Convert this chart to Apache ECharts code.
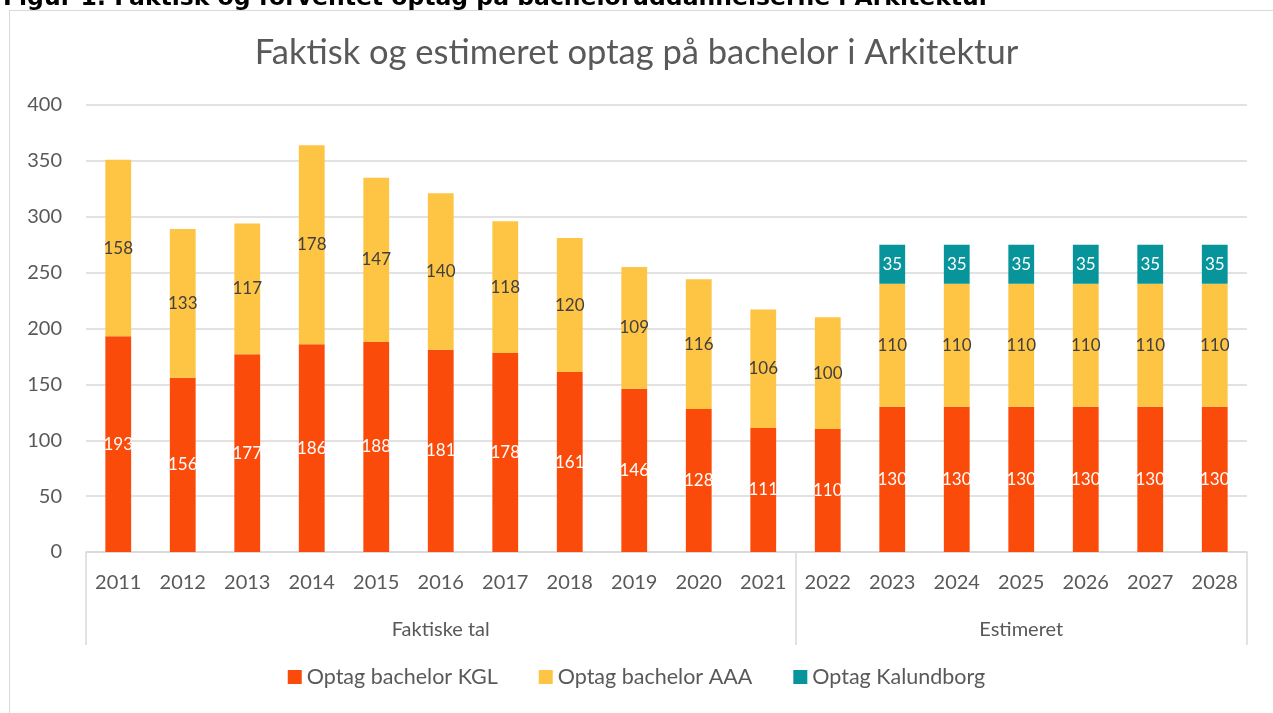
<!DOCTYPE html>
<html>
<head>
<meta charset="utf-8">
<script src="https://cdn.jsdelivr.net/npm/echarts@6/dist/echarts.min.js"></script>
<style>
  html, body { margin: 0; padding: 0; background: #fff; }
  #frame { position: absolute; left: 9px; top: 10px; width: 1280px; height: 720px; border: 1.5px solid #d9d9d9; }
  #chart { position: absolute; left: 0; top: 0; width: 1273px; height: 713px; }
</style>
</head>
<body>
<div id="frame"></div>
<div id="chart"></div>
<script>
const years = ['2011', '2012', '2013', '2014', '2015', '2016', '2017', '2018', '2019',
  '2020', '2021', '2022', '2023', '2024', '2025', '2026', '2027', '2028']
const kgl = [193, 156, 177, 186, 188, 181, 178, 161, 146, 128, 111, 110, 130, 130, 130, 130, 130, 130]
const aaa = [158, 133, 117, 178, 147, 140, 118, 120, 109, 116, 106, 100, 110, 110, 110, 110, 110, 110]
const kalundborg = [null, null, null, null, null, null, null, null, null, null, null, null, 35, 35, 35, 35, 35, 35]
const groupNames = ['Faktiske tal', 'Estimeret']
const groupSizes = [11, 7]
const yTicks = [0, 50, 100, 150, 200, 250, 300, 350, 400]

// build group axis: one label at centre of each group, ticks on group borders
const groupCats = []
const groupStarts = []
groupSizes.forEach((n, g) => {
  groupStarts.push(groupCats.length)
  for (let i = 0; i < n; i++) groupCats.push(i === Math.floor(n / 2) ? groupNames[g] : '')
})

const font = 'Lato, "Noto Sans", sans-serif'
const txt = '#595959'
const gridColor = '#d9d9d9'

const chart = echarts.init(document.getElementById('chart'))

const labelOf = (color) => ({
  show: true,
  position: 'inside',
  color: color,
  fontFamily: font,
  fontSize: 17
})

chart.setOption({
  textStyle: { fontFamily: font },
  title: [
    {
      text: 'Figur 1: Faktisk og forventet optag på bacheloruddannelserne i Arkitektur',
      left: -2,
      top: -18,
      textStyle: { fontFamily: '"DejaVu Sans", sans-serif', fontWeight: 'bold', fontSize: 23.5, color: '#000' }
    },
    {
      text: 'Faktisk og estimeret optag på bachelor i Arkitektur',
      left: 'center',
      top: 30,
      textStyle: { fontFamily: font, fontWeight: 'normal', fontSize: 34.5, color: txt }
    }
  ],
  legend: {
    bottom: 20,
    left: 'center',
    itemWidth: 14,
    itemHeight: 14,
    itemGap: 41,
    icon: 'rect',
    textStyle: { fontFamily: font, fontSize: 21.5, color: txt }
  },
  grid: { left: 86, right: 26, top: 105, bottom: 161 },
  xAxis: [
    {
      type: 'category',
      data: years,
      axisLine: { lineStyle: { color: gridColor, width: 1.5 } },
      axisTick: { show: false },
      axisLabel: { color: txt, fontSize: 20, fontFamily: font, margin: 21 }
    },
    {
      type: 'category',
      data: groupCats,
      position: 'bottom',
      axisLine: { show: false },
      axisTick: {
        show: true,
        length: 93,
        interval: (idx) => groupStarts.includes(idx),
        lineStyle: { color: gridColor, width: 1.5 }
      },
      axisLabel: { color: txt, fontSize: 20, fontFamily: font, margin: 68, interval: 0 }
    }
  ],
  yAxis: {
    type: 'value',
    min: yTicks[0],
    max: yTicks[yTicks.length - 1],
    interval: yTicks[1] - yTicks[0],
    axisLine: { show: false },
    axisTick: { show: false },
    axisLabel: { color: txt, fontSize: 20, fontFamily: font, margin: 24 },
    splitLine: { lineStyle: { color: gridColor, width: 1.5 } }
  },
  series: [
    {
      name: 'Optag bachelor KGL',
      type: 'bar',
      stack: 'optag',
      barWidth: '40%',
      data: kgl,
      itemStyle: { color: '#fa4b0b' },
      label: labelOf('#ffffff')
    },
    {
      name: 'Optag bachelor AAA',
      type: 'bar',
      stack: 'optag',
      data: aaa,
      itemStyle: { color: '#fec443' },
      label: labelOf('#404040')
    },
    {
      name: 'Optag Kalundborg',
      type: 'bar',
      stack: 'optag',
      data: kalundborg,
      itemStyle: { color: '#07949a' },
      label: labelOf('#ffffff')
    }
  ]
})
</script>
</body>
</html>
